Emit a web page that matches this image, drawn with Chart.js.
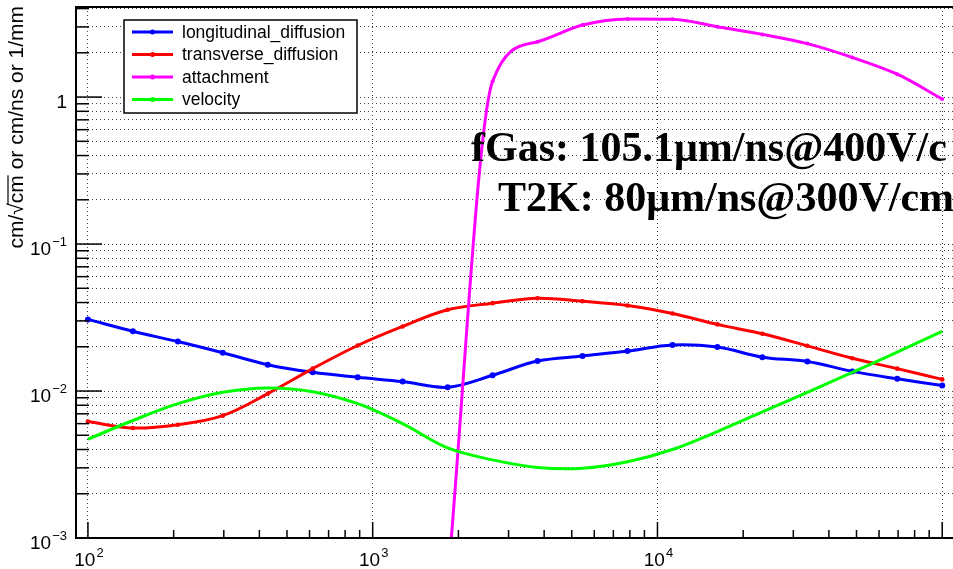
<!DOCTYPE html>
<html>
<head>
<meta charset="utf-8">
<script src="https://cdn.jsdelivr.net/npm/chart.js@4.4.1/dist/chart.umd.min.js"></script>
<style>
  html, body { margin: 0; padding: 0; background: #fff; overflow: hidden; }
  #wrap { position: relative; width: 960px; height: 569px; }
</style>
</head>
<body>
<div id="wrap"><canvas id="gas"></canvas></div>
<script>
// drift field points (V/cm)
const fieldValues = [100, 143.8, 206.9, 297.6, 428.1, 615.8, 885.8, 1274, 1833, 2637,
  3793, 5456, 7848, 11288, 16238, 23357, 33598, 48329, 69519, 100000];

const longitudinal = [0.0307, 0.0255, 0.0217, 0.0182, 0.0151, 0.0134, 0.0124, 0.0116, 0.0106, 0.0128,
  0.0160, 0.0173, 0.0187, 0.0206, 0.0199, 0.0170, 0.0159, 0.0136, 0.0121, 0.0109];
const transverse = [0.0062, 0.0056, 0.0059, 0.0068, 0.0096, 0.0142, 0.0204, 0.0275, 0.0357, 0.0396,
  0.0428, 0.0408, 0.0382, 0.0337, 0.0284, 0.0245, 0.0203, 0.0167, 0.0142, 0.0120];
// attachment is off the bottom of the plot below ~2 kV/cm
const attachment = [null, null, null, null, null, null, null, null, 0.0005, 1.28,
  2.38, 3.09, 3.40, 3.38, 3.01, 2.67, 2.31, 1.86, 1.43, 0.97];
const velocity = [0.0047, 0.0063, 0.0082, 0.0098, 0.0105, 0.0099, 0.0082, 0.0060, 0.0041, 0.0034,
  0.00302, 0.00298, 0.0033, 0.0040, 0.0053, 0.0072, 0.0098, 0.0134, 0.0184, 0.0255];

const seriesNames = ["longitudinal_diffusion", "transverse_diffusion", "attachment", "velocity"];
const seriesColors = ["#0000ff", "#ff0000", "#ff00ff", "#00ff00"];

const xDecades = [100, 1000, 10000, 100000];
const xLabels = ["10^2", "10^3", "10^4", ""];
const yDecades = [0.001, 0.01, 0.1, 1];
const yLabels = ["10^\u22123", "10^\u22122", "10^\u22121", "1"];

const yTitle = "cm/\u221Acm or cm/ns or 1/mm";
const notes = ["fGas: 105.1\u03BCm/ns@400V/c", "T2K: 80\u03BCm/ns@300V/cm"];

const X_MIN = 90.8, X_MAX = 110000, Y_MIN = 0.001, Y_MAX = 4.1;
const SANS = "'Liberation Sans', Arial, Helvetica, sans-serif";

function toPoints(values) {
  return fieldValues
    .map((x, i) => ({ x: x, y: values[i] }))
    .filter((p) => p.y !== null);
}

function multiples(decades, lo, hi) {
  const out = [];
  decades.concat([decades[0] / 10]).forEach((d) => {
    for (let m = 1; m <= 9; m++) {
      const v = parseFloat((m * d).toPrecision(3));
      if (v >= lo && v <= hi) out.push(v);
    }
  });
  return out.sort((a, b) => a - b);
}

const yGrid = multiples(yDecades, Y_MIN, Y_MAX);
const xMinor = multiples(xDecades, X_MIN, X_MAX);

function seg(ctx, x1, y1, x2, y2) {
  ctx.beginPath();
  ctx.moveTo(x1, y1);
  ctx.lineTo(x2, y2);
  ctx.stroke();
}

// "10^-2" style label, anchor is where the label ends (right) or its centre
function powerLabel(ctx, text, x, y, align) {
  const parts = text.split("^");
  ctx.font = "19px " + SANS;
  const wb = ctx.measureText(parts[0]).width;
  ctx.font = "13px " + SANS;
  const we = parts[1] ? ctx.measureText(parts[1]).width + 1 : 0;
  const total = wb + we;
  let left = align === "right" ? x - total : x - total / 2;
  ctx.textAlign = "left";
  ctx.textBaseline = "alphabetic";
  ctx.font = "19px " + SANS;
  ctx.fillText(parts[0], left, y);
  if (parts[1]) {
    ctx.font = "13px " + SANS;
    ctx.fillText(parts[1], left + wb + 1, y - 9);
  }
}

const frame = {
  id: "frame",
  afterDatasetsDraw(chart) {
    const ctx = chart.ctx;
    const a = chart.chartArea;
    const xs = chart.scales.x, ys = chart.scales.y;
    ctx.save();

    // axis frame
    ctx.strokeStyle = "#000";
    ctx.lineWidth = 2;
    ctx.strokeRect(a.left, a.top, a.right - a.left, a.bottom - a.top);

    // tick marks inside the frame
    ctx.lineWidth = 1.5;
    yGrid.forEach((v) => {
      const py = ys.getPixelForValue(v);
      const len = yDecades.includes(v) ? 26 : 13;
      seg(ctx, a.left, py, a.left + len, py);
    });
    xMinor.forEach((v) => {
      const px = xs.getPixelForValue(v);
      const len = xDecades.includes(v) ? 16 : 8;
      seg(ctx, px, a.bottom, px, a.bottom - len);
    });

    // tick labels
    ctx.fillStyle = "#000";
    yDecades.forEach((v, i) => {
      powerLabel(ctx, yLabels[i], 67, ys.getPixelForValue(v) + 11, "right");
    });
    xDecades.forEach((v, i) => {
      if (xLabels[i]) powerLabel(ctx, xLabels[i], xs.getPixelForValue(v) + 1, 566, "center");
    });

    // y axis title, ending at the top of the frame
    ctx.save();
    ctx.translate(17, a.top - 1);
    ctx.rotate(-Math.PI / 2);
    ctx.font = "21px " + SANS;
    ctx.textAlign = "right";
    ctx.textBaseline = "middle";
    ctx.fillText(yTitle, 0, 0);
    const full = ctx.measureText(yTitle).width;
    const pre = ctx.measureText("cm/\u221A").width;
    const cmW = ctx.measureText("cm").width;
    ctx.lineWidth = 1.2;
    seg(ctx, -full + pre - 1, -9, -full + pre + cmW, -9);
    ctx.restore();

    // legend box
    const lx = 124, ly = 20, lw = 233, lh = 93;
    ctx.fillStyle = "#fff";
    ctx.fillRect(lx, ly, lw, lh);
    ctx.strokeStyle = "#000";
    ctx.lineWidth = 1.5;
    ctx.strokeRect(lx, ly, lw, lh);
    chart.data.datasets.forEach((ds, i) => {
      const cy = ly + 12 + i * 22.5;
      ctx.strokeStyle = ds.borderColor;
      ctx.lineWidth = 3;
      seg(ctx, 132, cy, 173, cy);
      ctx.fillStyle = ds.borderColor;
      ctx.beginPath();
      ctx.arc(152.5, cy, 2.5, 0, Math.PI * 2);
      ctx.fill();
      ctx.fillStyle = "#000";
      ctx.font = "17.5px " + SANS;
      ctx.textAlign = "left";
      ctx.textBaseline = "middle";
      ctx.fillText(ds.label, 182, cy + 1);
    });

    // drift velocity notes
    ctx.fillStyle = "#000";
    ctx.font = "bold 42px 'Liberation Serif', 'Times New Roman', serif";
    ctx.textAlign = "left";
    ctx.textBaseline = "alphabetic";
    ctx.fillText(notes[0], 471, 161);
    ctx.fillText(notes[1], 498, 211);

    ctx.restore();
  },
};

function dataset(i, values, radius, order, smooth) {
  const ds = {
    label: seriesNames[i],
    data: toPoints(values),
    borderColor: seriesColors[i],
    backgroundColor: seriesColors[i],
    pointBackgroundColor: seriesColors[i],
    pointBorderWidth: 0,
    pointRadius: radius,
    borderWidth: 3,
    clip: 0,
    order: order,
  };
  if (smooth) ds.tension = 0.35;
  else ds.cubicInterpolationMode = "monotone";
  return ds;
}

new Chart(document.getElementById("gas"), {
  type: "line",
  data: {
    datasets: [
      dataset(0, longitudinal, 3, 4, true),
      dataset(1, transverse, 2.3, 3, true),
      dataset(2, attachment, 2, 2, false),
      dataset(3, velocity, 0, 1, true),
    ],
  },
  options: {
    responsive: true,
    maintainAspectRatio: false,
    animation: false,
    devicePixelRatio: 1,
    layout: { padding: { top: 7, left: 0, right: 6, bottom: 0 } },
    plugins: {
      legend: { display: false },
      tooltip: { enabled: false },
    },
    scales: {
      x: {
        type: "logarithmic",
        min: X_MIN,
        max: X_MAX,
        bounds: "data",
        afterBuildTicks: (scale) => {
          scale.ticks = xDecades.map((v) => ({ value: v }));
        },
        afterFit: (scale) => {
          scale.height = 31;
        },
        ticks: { display: false },
        grid: { color: "#444", lineWidth: 1, drawTicks: false },
        border: { display: false, dash: [1, 3] },
      },
      y: {
        type: "logarithmic",
        min: Y_MIN,
        max: Y_MAX,
        bounds: "data",
        afterBuildTicks: (scale) => {
          scale.ticks = yGrid.map((v) => ({ value: v }));
        },
        afterFit: (scale) => {
          scale.width = 76;
        },
        ticks: { display: false },
        grid: { color: "#444", lineWidth: 1, drawTicks: false },
        border: { display: false, dash: [1, 3] },
      },
    },
  },
  plugins: [frame],
});
</script>
</body>
</html>
